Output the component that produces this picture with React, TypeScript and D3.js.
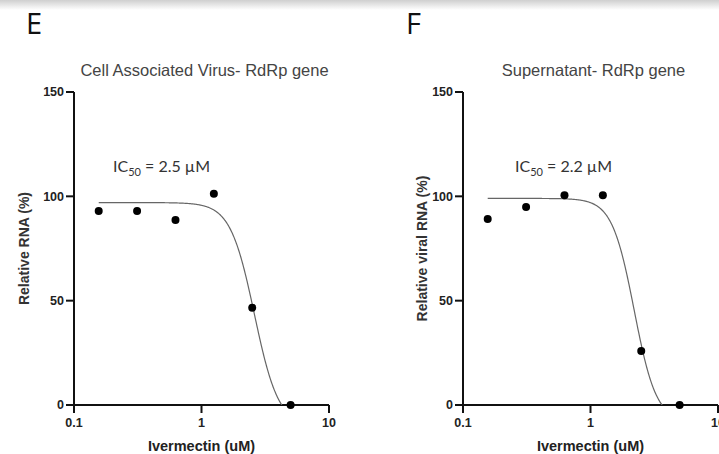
import React from 'react';
import * as d3 from 'd3';

// Ivermectin doses (uM) and measured relative RNA (%)
const doses = [0.15625, 0.3125, 0.625, 1.25, 2.5, 5];
const cellRNA = [93, 93, 88.6, 101.2, 46.6, 0];
const supernatantRNA = [89.1, 94.9, 100.5, 100.5, 25.9, 0];

const yTicks = [0, 50, 100, 150];
const xTicks = [0.1, 1, 10];
const xTickLabels = ['0.1', '1', '10'];

// fitted dose-response curves: [top, bottom, ic50, hill]
const cellFit = [97, -10, 2.6, 4.6];
const supernatantFit = [99, -8, 2.2, 5];

type PanelProps = {
  id: string;
  left: number;
  right: number;
  letter: string;
  letterX: number;
  title: string;
  yLabel: string;
  yLabelX: number;
  ic50: string;
  ic50X: number;
  values: number[];
  fit: number[];
};

const top = 92;
const bottom = 405;

function Panel(p: PanelProps) {
  const x = d3.scaleLog().domain([0.1, 10]).range([p.left, p.right]);
  const y = d3.scaleLinear().domain([0, 150]).range([bottom, top]);

  const [tp, bt, ic, hill] = p.fit;
  const model = (c: number) => bt + (tp - bt) / (1 + Math.pow(c / ic, hill));
  const logs = d3.range(Math.log10(doses[0]), Math.log10(doses[doses.length - 1]) + 0.0001, 0.004);
  const curve = d3.line<number>()
    .x((l) => x(Math.pow(10, l)))
    .y((l) => y(model(Math.pow(10, l))))(logs);

  const tickFont = { fontFamily: 'Liberation Sans, Arial, sans-serif', fontWeight: 700, fontSize: 12.5, fill: '#222' };

  return (
    <g>
      <defs>
        <clipPath id={p.id}>
          <rect x={p.left} y={top} width={p.right - p.left} height={bottom - top} />
        </clipPath>
      </defs>
      <text x={p.letterX} y={34} fontFamily="Open Sans, sans-serif" fontSize={29} fill="#111">{p.letter}</text>
      <text x={(p.left + p.right) / 2 + 3} y={76} textAnchor="middle" fontFamily="Liberation Sans, Arial, sans-serif" fontSize={16.5} fill="#444">{p.title}</text>

      {/* axes */}
      <line x1={p.left} x2={p.left} y1={top} y2={bottom} stroke="#111" strokeWidth={2} />
      <line x1={p.left} x2={p.right} y1={bottom} y2={bottom} stroke="#111" strokeWidth={2} />
      {yTicks.map((t) => (
        <g key={'y' + t}>
          <line x1={p.left - 8} x2={p.left} y1={y(t)} y2={y(t)} stroke="#111" strokeWidth={2} />
          <text x={p.left - 10} y={y(t)} dy="0.35em" textAnchor="end" {...tickFont}>{t}</text>
        </g>
      ))}
      {xTicks.map((t, i) => (
        <g key={'x' + t}>
          <line x1={x(t)} x2={x(t)} y1={bottom} y2={bottom + 8} stroke="#111" strokeWidth={2} />
          <text x={x(t)} y={bottom + 22} textAnchor="middle" {...tickFont}>{xTickLabels[i]}</text>
        </g>
      ))}
      <text x={(p.left + p.right) / 2} y={451} textAnchor="middle" fontFamily="Liberation Sans, Arial, sans-serif" fontWeight={700} fontSize={14.5} fill="#222">Ivermectin (uM)</text>
      <text transform={`translate(${p.yLabelX},${(top + bottom) / 2}) rotate(-90)`} textAnchor="middle" fontFamily="Liberation Sans, Arial, sans-serif" fontWeight={700} fontSize={14} fill="#333">{p.yLabel}</text>

      {/* fitted curve */}
      <path d={curve || ''} fill="none" stroke="#666" strokeWidth={1.2} clipPath={`url(#${p.id})`} />

      {/* data points */}
      {p.values.map((v, i) => (
        <circle key={i} cx={x(doses[i])} cy={y(v)} r={4} fill="#000" />
      ))}

      <text x={p.ic50X} y={172} fontFamily="Lato, sans-serif" fontSize={16} fill="#333">
        IC<tspan fontSize={11} dy={4}>50</tspan><tspan dy={-4}>{' = ' + p.ic50 + ' \u00b5M'}</tspan>
      </text>
    </g>
  );
}

export default function App() {
  return (
    <svg width={719} height={454} style={{ position: 'absolute', left: 0, top: 0, background: '#fff' }}>
      <defs>
        <linearGradient id="topShade" x1="0" y1="0" x2="0" y2="1">
          <stop offset="0" stopColor="#cfcfcf" />
          <stop offset="1" stopColor="#ffffff" />
        </linearGradient>
      </defs>
      <rect x={0} y={0} width={719} height={454} fill="#fff" />
      <rect x={0} y={0} width={719} height={10} fill="url(#topShade)" />
      <Panel id="clipE" left={74} right={329} letter="E" letterX={26} title="Cell Associated Virus- RdRp gene"
        yLabel="Relative RNA (%)" yLabelX={29} ic50="2.5" ic50X={113} values={cellRNA} fit={cellFit} />
      <Panel id="clipF" left={463} right={718} letter="F" letterX={406} title="Supernatant- RdRp gene"
        yLabel="Relative viral RNA (%)" yLabelX={427} ic50="2.2" ic50X={515} values={supernatantRNA} fit={supernatantFit} />
    </svg>
  );
}
